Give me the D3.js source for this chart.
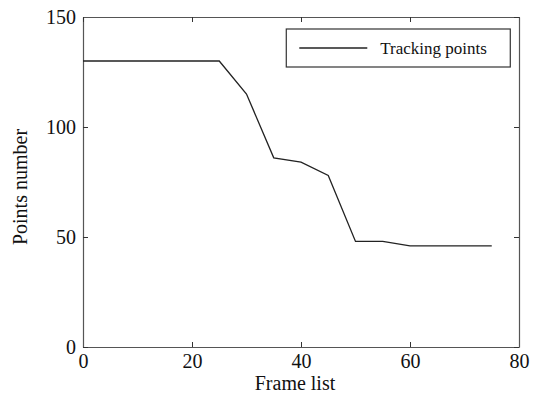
<!DOCTYPE html>
<html>
<head>
<meta charset="utf-8">
<script src="https://cdn.jsdelivr.net/npm/d3@7"></script>
<style>
  body { margin: 0; background: #fff; }
  text { font-family: "Liberation Serif", "Times New Roman", serif; fill: #111; }
</style>
</head>
<body>
<div id="chart"></div>
<script>
// Data
const frames = [0, 5, 10, 15, 20, 25, 30, 35, 40, 45, 50, 55, 60, 65, 70, 75];
const points = [130, 130, 130, 130, 130, 130, 115, 86, 84, 78, 48, 48, 46, 46, 46, 46];
const xTicks = [0, 20, 40, 60, 80];
const yTicks = [0, 50, 100, 150];
const seriesName = 'Tracking points';

const margin = {top: 17, right: 22, bottom: 53, left: 83};
const W = 541, H = 400;
const width = W - margin.left - margin.right;
const height = H - margin.top - margin.bottom;

const svg = d3.select('#chart').append('svg')
    .attr('width', W)
    .attr('height', H);

const g = svg.append('g')
    .attr('transform', `translate(${margin.left},${margin.top})`);

const x = d3.scaleLinear().domain([0, 80]).range([0, width]);
const y = d3.scaleLinear().domain([0, 150]).range([height, 0]);

// Axes with inward ticks (box style)
const tick = 5;
const axBottom = g.append('g')
    .attr('transform', `translate(0,${height})`)
    .call(d3.axisBottom(x).tickValues(xTicks).tickSizeInner(-tick).tickSizeOuter(0).tickPadding(7));
const axLeft = g.append('g')
    .call(d3.axisLeft(y).tickValues(yTicks).tickSizeInner(-tick).tickSizeOuter(0).tickPadding(7));
const axTop = g.append('g')
    .call(d3.axisTop(x).tickValues(xTicks).tickSizeInner(-tick).tickSizeOuter(0).tickFormat(''));
const axRight = g.append('g')
    .attr('transform', `translate(${width},0)`)
    .call(d3.axisRight(y).tickValues(yTicks).tickSizeInner(-tick).tickSizeOuter(0).tickFormat(''));

[axBottom, axLeft, axTop, axRight].forEach(a => {
    a.select('.domain').attr('stroke', '#555').attr('stroke-width', 1.2);
    a.selectAll('.tick line').attr('stroke', '#333');
    a.selectAll('.tick text')
        .style('font-size', '20px')
        .style('font-family', '"Liberation Serif", serif')
        .attr('fill', '#111');
});

// Line
const line = d3.line()
    .x((d, i) => x(frames[i]))
    .y(d => y(d));

g.append('path')
    .datum(points)
    .attr('d', line)
    .attr('fill', 'none')
    .attr('stroke', '#222')
    .attr('stroke-width', 1.3);

// Axis labels
g.append('text')
    .attr('x', width / 2 - 6)
    .attr('y', height + 43)
    .attr('text-anchor', 'middle')
    .style('font-size', '20px')
    .text('Frame list');

g.append('text')
    .attr('transform', 'rotate(-90)')
    .attr('x', -height / 2 - 5)
    .attr('y', -56)
    .attr('text-anchor', 'middle')
    .style('font-size', '20px')
    .text('Points number');

// Legend
const legend = g.append('g')
    .attr('transform', `translate(${x(37.3)},${12})`);

legend.append('rect')
    .attr('width', 224)
    .attr('height', 38)
    .attr('fill', '#fff')
    .attr('stroke', '#333')
    .attr('stroke-width', 1.2);

legend.append('line')
    .attr('x1', 13).attr('x2', 81)
    .attr('y1', 19).attr('y2', 19)
    .attr('stroke', '#222')
    .attr('stroke-width', 1.3);

legend.append('text')
    .attr('x', 94)
    .attr('y', 25)
    .style('font-size', '17px')
    .text(seriesName);
</script>
</body>
</html>
